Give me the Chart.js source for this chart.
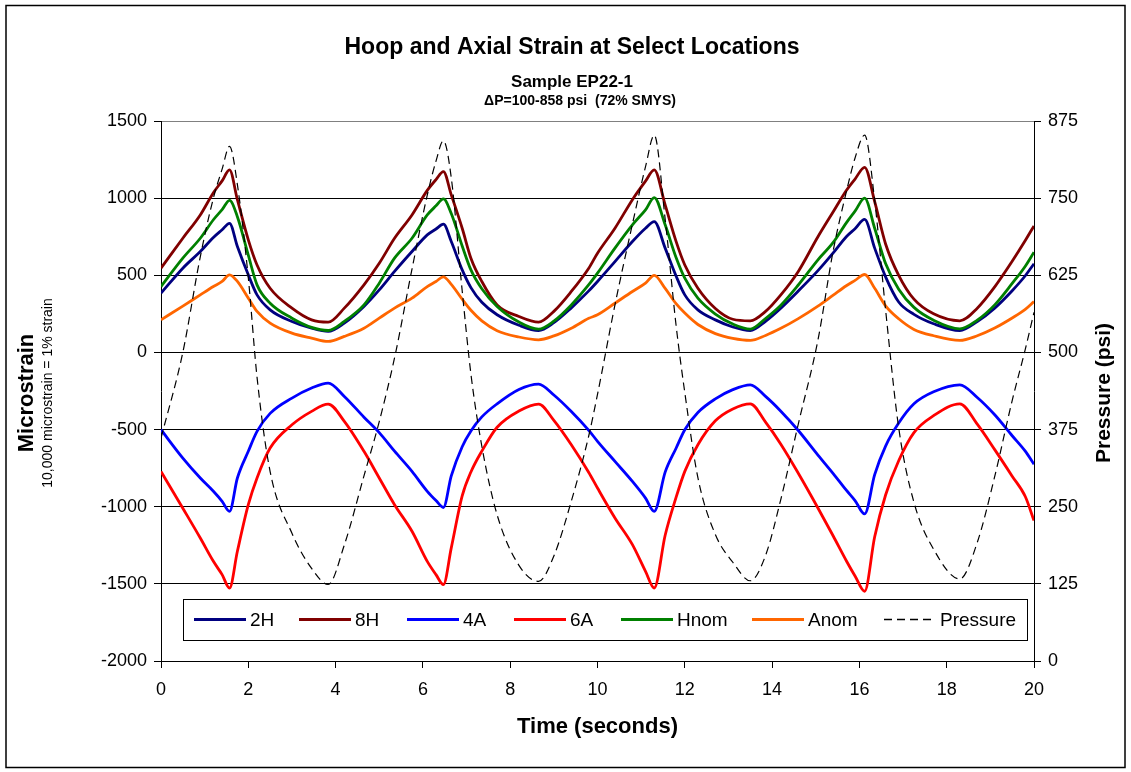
<!DOCTYPE html>
<html>
<head>
<meta charset="utf-8">
<script src="https://cdn.jsdelivr.net/npm/chart.js@4.4.1/dist/chart.umd.min.js"></script>
<style>
  html, body { margin: 0; padding: 0; background: #fff; }
  canvas { display: block; }
</style>
</head>
<body>
<canvas id="c" width="1131" height="772"></canvas>
<script>
// ---------------- DATA ----------------
const timeSec = [
  0, 0.5, 0.9, 1.2, 1.4, 1.57, 1.75, 2.0, 2.2, 2.5, 3.0, 3.45, 3.83, 4.2, 4.65, 5.0,
  5.35, 5.75, 6.1, 6.3, 6.47, 6.65, 6.9, 7.1, 7.35, 7.7, 8.2, 8.65, 9.0, 9.4, 9.8,
  10.0, 10.4, 10.8, 11.1, 11.3, 11.55, 11.8, 12.0, 12.3, 12.7, 13.1, 13.5, 13.85, 14.2, 14.6, 15.05,
  15.4, 15.7, 15.9, 16.12, 16.35, 16.6, 16.9, 17.25, 17.7, 18.3, 18.7, 19.1, 19.5, 19.8, 20.0
];
const s2H = [
  384, 546, 654, 745, 795, 837, 686, 503, 373, 276, 201, 157, 136, 190, 298, 405,
  525, 654, 762, 800, 831, 719, 535, 420, 325, 244, 176, 142, 193, 289, 399,
  460, 589, 719, 805, 848, 676, 495, 373, 276, 211, 165, 142, 202, 287, 398, 530,
  645, 750, 802, 862, 676, 490, 327, 247, 186, 142, 200, 287, 400, 497, 575
];
const s8H = [
  546, 740, 891, 1035, 1112, 1183, 990, 730, 567, 416, 287, 211, 196, 287, 438, 578,
  740, 891, 1050, 1120, 1172, 1021, 805, 611, 460, 308, 233, 196, 266, 395, 546,
  643, 805, 990, 1110, 1183, 956, 720, 567, 416, 285, 215, 205, 266, 373, 525, 750,
  912, 1050, 1124, 1200, 978, 703, 500, 345, 250, 205, 287, 425, 591, 725, 820
];
const s4A = [
  -501, -685, -814, -900, -965, -1030, -814, -641, -512, -395, -296, -231, -199, -285, -420, -520,
  -640, -771, -900, -960, -1005, -800, -611, -509, -418, -333, -240, -205, -276, -383, -505,
  -576, -706, -836, -944, -1030, -776, -621, -501, -389, -301, -241, -210, -285, -381, -506, -665,
  -785, -893, -960, -1047, -792, -607, -458, -333, -255, -210, -292, -404, -540, -640, -725
];
const s6A = [
  -771, -1010, -1203, -1354, -1440, -1527, -1289, -987, -814, -620, -469, -382, -335, -447, -641, -814,
  -987, -1159, -1354, -1440, -1505, -1267, -930, -775, -640, -485, -380, -335, -440, -598, -778,
  -879, -1073, -1246, -1419, -1527, -1185, -940, -771, -598, -443, -366, -333, -452, -595, -783, -1008,
  -1190, -1350, -1449, -1548, -1195, -924, -702, -520, -410, -333, -465, -630, -802, -934, -1090
];
const sHnom = [
  427, 611, 740, 860, 925, 985, 880, 630, 438, 319, 222, 162, 142, 201, 308, 449,
  611, 740, 891, 950, 995, 900, 690, 535, 413, 298, 197, 151, 203, 308, 439,
  514, 676, 827, 924, 1004, 827, 615, 481, 352, 249, 184, 151, 220, 306, 437, 600,
  713, 840, 916, 1000, 805, 576, 410, 292, 209, 153, 209, 308, 447, 559, 650
];
const sAnom = [
  211, 300, 373, 427, 460, 503, 460, 352, 266, 190, 125, 93, 71, 104, 157, 222,
  287, 352, 427, 460, 490, 441, 345, 273, 205, 141, 100, 82, 107, 157, 221,
  244, 319, 395, 449, 500, 415, 316, 255, 181, 122, 91, 78, 110, 156, 219, 300,
  371, 432, 467, 505, 416, 302, 218, 149, 108, 78, 108, 158, 223, 279, 330
];
const pressurePsi = [
  361, 500, 655, 750, 797, 834, 772, 621, 460, 307, 207, 150, 124, 188, 300, 388,
  491, 635, 755, 810, 843, 783, 600, 465, 348, 237, 155, 129, 170, 259, 365,
  432, 577, 708, 801, 852, 716, 544, 435, 297, 205, 160, 130, 171, 262, 384, 520,
  665, 760, 815, 852, 746, 569, 378, 257, 181, 133, 192, 299, 422, 505, 565
];
const seriesNames = ['2H', '8H', '4A', '6A', 'Hnom', 'Anom', 'Pressure'];
const timeTicks = [0, 2, 4, 6, 8, 10, 12, 14, 16, 18, 20];
const strainTicks = [-2000, -1500, -1000, -500, 0, 500, 1000, 1500];
const pressureTicks = [0, 125, 250, 375, 500, 625, 750, 875];

const titleLines = ['Hoop and Axial Strain at Select Locations', 'Sample EP22-1', '\u0394P=100-858 psi  (72% SMYS)'];
const yTitle = 'Microstrain';
const ySubTitle = '10,000 microstrain = 1% strain';
const y2Title = 'Pressure (psi)';
const xTitle = 'Time (seconds)';

// ---------------- BUILD ----------------
const FONT = "'Liberation Sans', Arial, sans-serif";
const toXY = arr => arr.map((v, i) => ({ x: timeSec[i], y: v }));
const colors = ['#000080', '#800000', '#0000FF', '#FF0000', '#008000', '#FF6600', '#000000'];
const values = [s2H, s8H, s4A, s6A, sHnom, sAnom, pressurePsi];

const datasets = seriesNames.map((name, i) => ({
  label: name,
  data: toXY(values[i]),
  borderColor: colors[i],
  backgroundColor: colors[i],
  borderWidth: name === 'Pressure' ? 1.2 : 2.8,
  borderDash: name === 'Pressure' ? [8, 5] : [],
  yAxisID: name === 'Pressure' ? 'y2' : 'y',
  order: seriesNames.length - 1 - i,
  pointRadius: 0,
  fill: false,
  cubicInterpolationMode: 'monotone'
}));

const decorPlugin = {
  id: 'decor',
  beforeDraw(chart) {
    const c = chart.ctx;
    c.save();
    c.fillStyle = '#fff';
    c.fillRect(0, 0, chart.width, chart.height);
    c.restore();
  },
  afterDraw(chart) {
    const c = chart.ctx;
    const a = chart.chartArea;
    c.save();
    // outer frame
    c.strokeStyle = '#000';
    c.lineWidth = 1.5;
    c.strokeRect(6, 5.5, 1119, 762);
    c.fillStyle = '#000';
    c.textAlign = 'center';
    c.textBaseline = 'middle';
    // titles
    c.font = 'bold 23px ' + FONT;
    c.fillText(titleLines[0], 572, 48);
    c.font = 'bold 17px ' + FONT;
    c.fillText(titleLines[1], 572, 82);
    c.font = 'bold 14px ' + FONT;
    c.fillText(titleLines[2], 580, 101);
    // x title
    c.font = 'bold 22px ' + FONT;
    c.fillText(xTitle, (a.left + a.right) / 2, 727);
    // left titles
    const cy = (a.top + a.bottom) / 2 + 2;
    c.save();
    c.translate(27, cy);
    c.rotate(-Math.PI / 2);
    c.font = 'bold 22px ' + FONT;
    c.fillText(yTitle, 0, 0);
    c.restore();
    c.save();
    c.translate(48, cy);
    c.rotate(-Math.PI / 2);
    c.font = '14px ' + FONT;
    c.fillText(ySubTitle, 0, 0);
    c.restore();
    // right title
    c.save();
    c.translate(1104, cy);
    c.rotate(-Math.PI / 2);
    c.font = 'bold 21px ' + FONT;
    c.fillText(y2Title, 0, 0);
    c.restore();
    // legend box
    const bx = 183, by = 599, bw = 844, bh = 41;
    c.fillStyle = '#fff';
    c.fillRect(bx, by, bw, bh);
    c.strokeStyle = '#000';
    c.lineWidth = 1;
    c.strokeRect(bx + 0.5, by + 0.5, bw, bh);
    const itemX = [194, 299, 407, 514, 621, 752, 884];
    const ly = by + bh / 2;
    c.textAlign = 'left';
    c.font = '19px ' + FONT;
    chart.data.datasets.forEach((ds, i) => {
      const x0 = itemX[i];
      c.beginPath();
      c.strokeStyle = ds.borderColor;
      c.lineWidth = ds.label === 'Pressure' ? 1.5 : 2.8;
      c.setLineDash(ds.borderDash || []);
      c.moveTo(x0, ly);
      c.lineTo(x0 + 52, ly);
      c.stroke();
      c.setLineDash([]);
      c.fillStyle = '#000';
      c.fillText(ds.label, x0 + 56, ly + 1);
    });
    c.restore();
  }
};

const tickFont = { family: FONT, size: 18 };

new Chart(document.getElementById('c'), {
  type: 'line',
  data: { datasets },
  options: {
    responsive: false,
    animation: false,
    devicePixelRatio: 1,
    layout: { padding: { top: 121, left: 0, right: 0, bottom: 0 } },
    plugins: {
      legend: { display: false },
      title: { display: false },
      tooltip: { enabled: false }
    },
    scales: {
      x: {
        type: 'linear',
        min: 0, max: 20,
        afterBuildTicks: s => { s.ticks = timeTicks.map(v => ({ value: v })); },
        afterFit: s => { s.height = 111; },
        ticks: { color: '#000', font: tickFont, padding: 11, maxRotation: 0, autoSkip: false, callback: v => String(v) },
        grid: { drawOnChartArea: false, drawTicks: true, tickLength: 7, color: '#000', tickColor: '#000' },
        border: { display: true, color: '#000', width: 1 }
      },
      y: {
        type: 'linear',
        position: 'left',
        min: -2000, max: 1500,
        afterBuildTicks: s => { s.ticks = strainTicks.map(v => ({ value: v })); },
        afterFit: s => { s.width = 161; },
        ticks: { color: '#000', font: tickFont, padding: 7, autoSkip: false, callback: v => String(v) },
        grid: {
          drawOnChartArea: true, drawTicks: true, tickLength: 7,
          color: ctx => (ctx.tick && ctx.tick.value === 1500) ? '#808080' : '#000',
          tickColor: '#000', lineWidth: 1
        },
        border: { display: true, color: '#000', width: 1 }
      },
      y2: {
        type: 'linear',
        position: 'right',
        min: 0, max: 875,
        afterBuildTicks: s => { s.ticks = pressureTicks.map(v => ({ value: v })); },
        afterFit: s => { s.width = 97; },
        ticks: { color: '#000', font: tickFont, padding: 7, autoSkip: false, callback: v => String(v) },
        grid: { drawOnChartArea: false, drawTicks: true, tickLength: 7, color: '#000', tickColor: '#000' },
        border: { display: true, color: '#000', width: 1 }
      }
    }
  },
  plugins: [decorPlugin]
});
</script>
</body>
</html>
